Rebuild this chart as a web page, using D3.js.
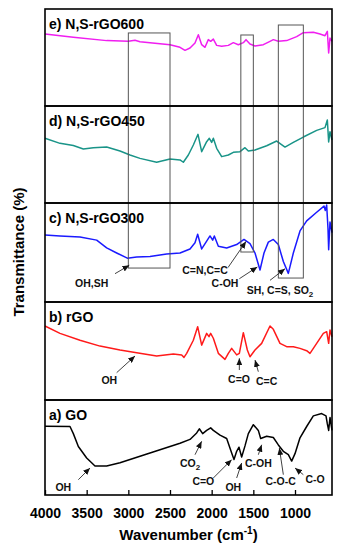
<!DOCTYPE html>
<html>
<head>
<meta charset="utf-8">
<script src="https://cdn.jsdelivr.net/npm/d3@7"></script>
<style>
  html, body { margin: 0; padding: 0; background: #fff; }
  svg { display: block; font-family: "Liberation Sans", Arial, sans-serif; }
</style>
</head>
<body>
<svg id="chart" width="341" height="550"></svg>
<script>
// panels from top to bottom
const panelIds = ['e', 'd', 'c', 'b', 'a'];
const panelLabels = ['e) N,S-rGO600', 'd) N,S-rGO450', 'c) N,S-rGO300', 'b) rGO', 'a) GO'];
const panelColors = ['#f01ef0', '#199488', '#1a1aff', '#ff1a1a', '#000000'];

const xTicks = [4000, 3500, 3000, 2500, 2000, 1500, 1000];

// [wavenumber, transmittance (arbitrary, per panel)]
const spectrumE = [
  [4000, 74.2], [3660, 71], [3260, 67.4], [3000, 66.7], [2920, 67.7], [2860, 66.3],
  [2500, 63.2], [2380, 60.5], [2320, 57.4], [2260, 59.8], [2200, 65], [2160, 73.5],
  [2120, 63.2], [2080, 60.5], [2040, 68.4], [2012, 66.7], [1980, 69], [1940, 62.5],
  [1880, 61.5], [1800, 62.5], [1740, 65.3], [1680, 63.2], [1620, 65.3], [1588, 68.4],
  [1540, 63.9], [1480, 61.9], [1380, 63.2], [1300, 66.7], [1260, 68.4], [1200, 66.7],
  [1100, 67.4], [980, 71.5], [900, 75.6], [780, 76], [700, 74.2], [640, 72.5],
  [612, 77], [596, 54.6], [580, 70], [556, 66.7]
];
const spectrumD = [
  [4000, 66.7], [3820, 61.5], [3660, 59.2], [3540, 55.7], [3420, 57], [3260, 57.7],
  [3100, 53.6], [2980, 49.5], [2860, 46], [2660, 42], [2500, 45.4], [2380, 44.4],
  [2340, 42], [2280, 49.5], [2220, 59.8], [2164, 70.8], [2120, 52.9], [2060, 63.2],
  [2028, 66.7], [2000, 62.5], [1980, 66.7], [1940, 56.4], [1880, 47.8], [1800, 49.5],
  [1740, 52.2], [1660, 52.9], [1600, 57], [1560, 53.6], [1480, 54.6], [1340, 59],
  [1220, 63.9], [1120, 57.7], [1020, 62.5], [900, 68], [740, 74.9], [640, 77.7],
  [612, 85.6], [596, 63], [580, 73.5], [556, 65]
];
const spectrumC = [
  [4000, 67.7], [3820, 66.7], [3580, 65.6], [3380, 62.5], [3260, 54.6], [3140, 49.5],
  [3012, 44.3], [2900, 45.4], [2740, 46], [2540, 48.5], [2380, 49.5], [2260, 53.6],
  [2200, 59.8], [2168, 68.4], [2120, 53.6], [2060, 61.5], [2020, 66.7], [1988, 62.5],
  [1968, 66.7], [1920, 56.4], [1820, 54.6], [1700, 58], [1612, 63.2], [1540, 59],
  [1480, 49.5], [1420, 32.3], [1372, 49.5], [1320, 60.5], [1260, 63.2], [1200, 58],
  [1140, 40.9], [1080, 28.9], [1020, 49.5], [940, 71.8], [860, 82], [740, 90.7],
  [652, 96.9], [636, 92.5], [620, 98], [604, 74], [596, 52.9], [580, 80.7], [556, 70]
];
const spectrumB = [
  [4000, 75.5], [3820, 68], [3580, 61], [3340, 55], [3100, 51], [2900, 48.3],
  [2660, 45], [2460, 47], [2360, 46], [2332, 43.5], [2300, 47.6], [2220, 61],
  [2168, 74.8], [2120, 56], [2060, 68], [2032, 64.6], [2012, 68], [1980, 63],
  [1920, 47.6], [1840, 41.5], [1800, 47.6], [1760, 52.7], [1700, 46], [1668, 47.6],
  [1620, 68.7], [1572, 51], [1540, 44.2], [1480, 51], [1400, 57.8], [1300, 75.5],
  [1260, 72.1], [1180, 57.8], [1100, 54.4], [1020, 54.4], [940, 52.7], [860, 50.3],
  [820, 47.6], [740, 57.8], [660, 68], [620, 69.7], [596, 57.8], [580, 71.4], [556, 64.6]
];
const spectrumA = [
  [4000, 72.4], [3700, 72.1], [3660, 64.6], [3600, 51], [3500, 39], [3400, 30.6],
  [3260, 30.6], [3100, 34], [2860, 40.8], [2620, 47.6], [2380, 54.4], [2260, 58.5],
  [2180, 65.3], [2148, 69.7], [2108, 64.6], [2060, 68], [2012, 70.7], [1980, 68],
  [1900, 63], [1820, 59.5], [1760, 44.2], [1732, 37.4], [1700, 46], [1672, 50.3],
  [1640, 40], [1600, 51.7], [1560, 64.6], [1500, 74], [1440, 68], [1412, 59.5],
  [1340, 61.9], [1260, 60.5], [1200, 52.7], [1140, 46], [1080, 42.5], [1040, 35.7],
  [1000, 43.5], [940, 60.2], [860, 72.1], [780, 83.3], [680, 85.7], [628, 83.3],
  [612, 74.8], [596, 68], [580, 81.6], [556, 68]
];
const spectra = [spectrumE, spectrumD, spectrumC, spectrumB, spectrumA];

// gray boxes: wavenumber range, top/bottom given as [panel, transmittance]
const boxes = [
  { from: 3000, to: 2500, top: ['e', 75.3], bottom: ['c', 34.3] },
  { from: 1650, to: 1500, top: ['e', 73.2], bottom: ['c', 50.5] },
  { from: 1200, to: 900, top: ['e', 83.5], bottom: ['c', 24.2] }
];

// annotations: text position, arrow tail and arrow tip, all [wavenumber, transmittance]
const annotations = [
  { panel: 'c', label: 'OH,SH', text: [3440, 19.2], tail: [3160, 28.6], tip: [2988, 37.1] },
  { panel: 'c', label: 'C=N,C=C', text: [2080, 32], tail: [1804, 34.8], tip: [1588, 61.1] },
  { panel: 'c', label: 'C-OH', text: [1840, 19.2], tail: [1668, 23.5], tip: [1452, 35.4] },
  { panel: 'c', label: 'SH, C=S, SO_2', text: [1180, 11.8], tail: [1300, 21.9], tip: [1120, 33.6] },
  { panel: 'b', label: 'OH', text: [3228, 20.4], tail: [3140, 27.9], tip: [2920, 44.9] },
  { panel: 'b', label: 'C=O', text: [1672, 21.1], tail: [1668, 30.6], tip: [1668, 42.6] },
  { panel: 'b', label: 'C=C', text: [1340, 19.4], tail: [1440, 28.9], tip: [1480, 40.8] },
  { panel: 'a', label: 'OH', text: [3780, 8.1], tail: [3600, 16.1], tip: [3460, 28.4] },
  { panel: 'a', label: 'CO_2', text: [2260, 33.7], tail: [2200, 42.4], tip: [2120, 56.5] },
  { panel: 'a', label: 'C=O', text: [2100, 14.4], tail: [1980, 17.9], tip: [1760, 37.2] },
  { panel: 'a', label: 'OH', text: [1740, 8.1], tail: [1700, 17.9], tip: [1640, 33.7] },
  { panel: 'a', label: 'C-OH', text: [1440, 33.7], tail: [1440, 42.4], tip: [1400, 52.9] },
  { panel: 'a', label: 'C-O-C', text: [1172, 14.4], tail: [1140, 21.4], tip: [1188, 49.5] },
  { panel: 'a', label: 'C-O', text: [760, 16.1], tail: [900, 21.4], tip: [1000, 28.4] }
];

// ---- layout
const left = 45, right = 332;
const panelEdges = [9, 106, 203, 302, 400, 495];
const bottom = panelEdges[panelEdges.length - 1];

const svg = d3.select('#chart');

const x = d3.scaleLinear().domain([4000, 556]).range([left, right]);
const yScales = {};
panelIds.forEach((id, i) => {
  yScales[id] = d3.scaleLinear().domain([0, 100]).range([panelEdges[i + 1], panelEdges[i]]);
});

const defs = svg.append('defs');
defs.append('marker')
  .attr('id', 'arrow')
  .attr('markerUnits', 'userSpaceOnUse')
  .attr('markerWidth', 7)
  .attr('markerHeight', 6)
  .attr('refX', 7)
  .attr('refY', 3)
  .attr('orient', 'auto')
  .append('path')
  .attr('d', 'M0,0 L7,3 L0,6 z')
  .attr('fill', '#111');

// spectra
const line = d3.line().x((d) => x(d[0]));
panelIds.forEach((id, i) => {
  svg.append('path')
    .datum(spectra[i])
    .attr('fill', 'none')
    .attr('stroke', panelColors[i])
    .attr('stroke-width', 1.5)
    .attr('stroke-linejoin', 'round')
    .attr('d', line.y((d) => yScales[id](d[1])));
});

// gray boxes
svg.append('g')
  .selectAll('rect')
  .data(boxes)
  .join('rect')
  .attr('x', (d) => x(d.from))
  .attr('width', (d) => x(d.to) - x(d.from))
  .attr('y', (d) => yScales[d.top[0]](d.top[1]))
  .attr('height', (d) => yScales[d.bottom[0]](d.bottom[1]) - yScales[d.top[0]](d.top[1]))
  .attr('fill', 'none')
  .attr('stroke', '#555')
  .attr('stroke-width', 1);

// panel frames + labels
panelIds.forEach((id, i) => {
  svg.append('rect')
    .attr('x', left)
    .attr('y', panelEdges[i])
    .attr('width', right - left)
    .attr('height', panelEdges[i + 1] - panelEdges[i])
    .attr('fill', 'none')
    .attr('stroke', '#000')
    .attr('stroke-width', 1.6);

  svg.append('text')
    .attr('x', left + 4)
    .attr('y', panelEdges[i] + 19.5)
    .attr('font-size', 14)
    .attr('font-weight', 'bold')
    .attr('fill', '#000')
    .text(panelLabels[i]);
});

// annotation text with _subscript
function addLabel(sel, label) {
  const parts = label.split('_');
  sel.append('tspan').text(parts[0]);
  if (parts[1]) {
    sel.append('tspan').attr('font-size', 8).attr('dy', 3).text(parts[1]);
  }
}

const ann = svg.append('g').attr('class', 'annotations');
annotations.forEach((a) => {
  const y = yScales[a.panel];
  ann.append('line')
    .attr('x1', x(a.tail[0]))
    .attr('y1', y(a.tail[1]))
    .attr('x2', x(a.tip[0]))
    .attr('y2', y(a.tip[1]))
    .attr('stroke', '#111')
    .attr('stroke-width', 0.8)
    .attr('marker-end', 'url(#arrow)');
  const t = ann.append('text')
    .attr('x', x(a.text[0]))
    .attr('y', y(a.text[1]))
    .attr('dy', '0.36em')
    .attr('text-anchor', 'middle')
    .attr('font-size', 10.5)
    .attr('font-weight', 'bold')
    .attr('fill', '#111');
  addLabel(t, a.label);
});

// x axis: ticks inside the bottom frame
const xAxis = d3.axisBottom(x)
  .tickValues(xTicks)
  .tickSizeInner(-5)
  .tickSizeOuter(0)
  .tickPadding(13)
  .tickFormat(d3.format('d'));

svg.append('g')
  .attr('transform', `translate(0,${bottom})`)
  .call(xAxis)
  .call((g) => g.select('.domain').remove())
  .call((g) => g.selectAll('line').attr('stroke', '#000').attr('stroke-width', 1.3))
  .call((g) => g.selectAll('text')
    .attr('font-size', 14)
    .attr('font-weight', 'bold')
    .attr('font-family', '"Liberation Sans", Arial, sans-serif')
    .attr('fill', '#000'));

// axis titles
const xTitle = svg.append('text')
  .attr('x', (left + right) / 2 + 0)
  .attr('y', 540)
  .attr('text-anchor', 'middle')
  .attr('font-size', 15)
  .attr('font-weight', 'bold');
xTitle.append('tspan').text('Wavenumber (cm');
xTitle.append('tspan').attr('font-size', 10).attr('dy', -6).text('-1');
xTitle.append('tspan').attr('dy', 6).text(')');

svg.append('text')
  .attr('transform', `translate(24,${(panelEdges[0] + bottom) / 2})rotate(-90)`)
  .attr('text-anchor', 'middle')
  .attr('font-size', 15)
  .attr('font-weight', 'bold')
  .text('Transmittance (%)');
</script>
</body>
</html>
